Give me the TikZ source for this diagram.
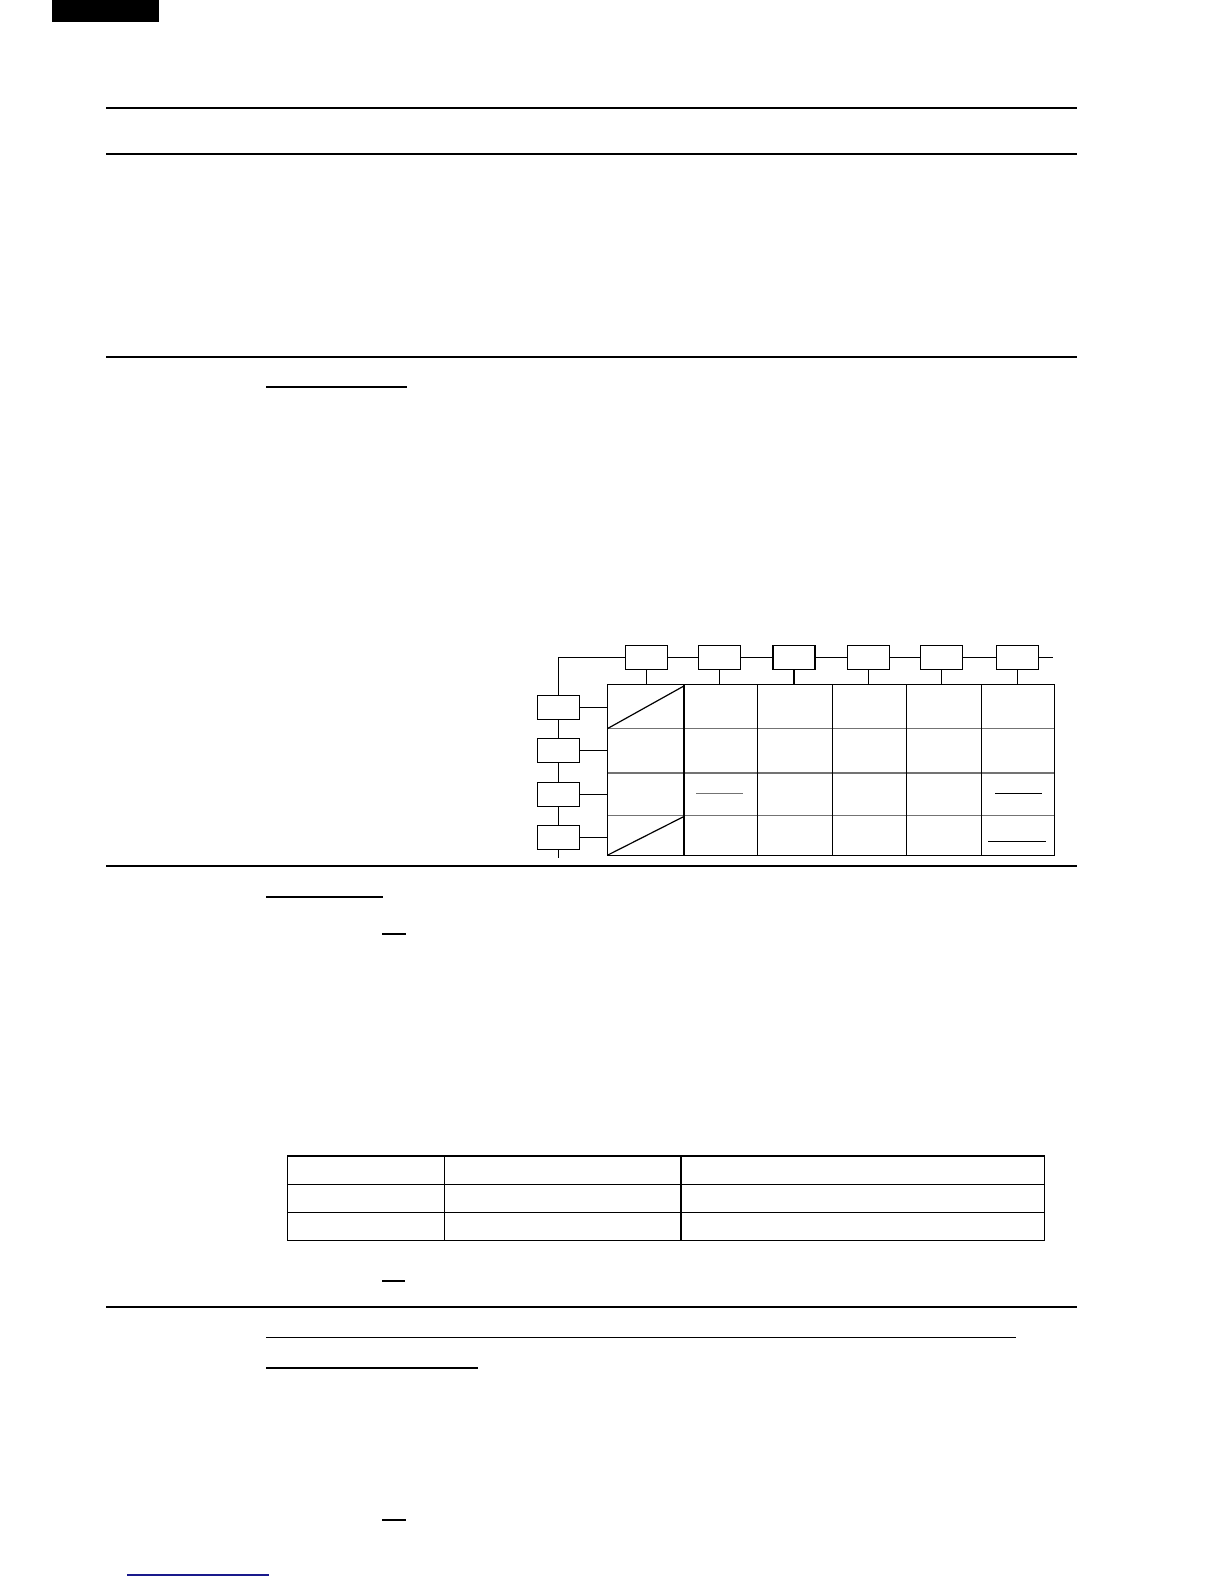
\documentclass[tikz,border=0pt]{standalone}
\usetikzlibrary{positioning}

\definecolor{rowgray}{gray}{0.45}
\definecolor{linkblue}{RGB}{25,25,140}

\begin{document}
\begin{tikzpicture}[x=1pt, y=-1pt, line width=1.2pt,
	box/.style={draw, minimum width=42pt, minimum height=24pt, inner sep=0pt},
	rule/.style={line width=1.7pt},
	uline/.style={line width=1.4pt}]
	\useasboundingbox (0,0) rectangle (1224,1584);
	% page tab and section rules
	\fill (52,0) rectangle (159,22);
	\foreach \y in {107.7,154,357,866,1307}{
			\draw[rule] (106,\y) -- (1077,\y);
		}
	\draw[uline] (266,387) -- (407,387);
	\draw[uline] (266,897) -- (383,897);
	\draw[uline] (382,934) -- (406,934);
	\draw[uline] (382,1281) -- (405,1281);
	\draw[uline] (266,1337.5) -- (1016,1337.5);
	\draw[uline] (266,1368) -- (478,1368);
	\draw[uline] (382,1520) -- (406,1520);
	\draw[uline, linkblue] (127,1575) -- (269,1575);

	% boxes round the grid
	\foreach \x [count=\i] in {646.3,719.8,794,868.3,941.8,1017.5}{
			\node[box] (top\i) at (\x,657.3) {};
		}
	\foreach \y [count=\i] in {707.3,750.6,794.8,837.3}{
			\node[box] (side\i) at (558.3,\y) {};
		}
	\coordinate (gridnw) at (607.3,684.3);
	\coordinate (busend) at (1052.6,657.3);
	\coordinate (spine) at (558.3,858);
	\draw (side1.north) |- (top1.west);
	\foreach \i [evaluate=\i as \j using int(\i+1)] in {1,...,5}{
			\draw (top\i.east) -- (top\j.west);
		}
	\draw (top6.east) -- (busend);
	\foreach \i [evaluate=\i as \j using int(\i+1)] in {1,...,3}{
			\draw (side\i.south) -- (side\j.north);
		}
	\draw (side4.south) -- (spine);
	\foreach \i in {1,...,6}{
			\draw (top\i.south) -- (top\i.south |- gridnw);
		}
	\foreach \i in {1,...,4}{
			\draw (side\i.east) -- (side\i.east -| gridnw);
		}

	% the grid
	\foreach \y in {728.7,773,815.3}{
			\draw[rowgray] (607.3,\y) -- (1054.6,\y);
		}
	\foreach \x in {683.9,757.7,832.4,906.2,981.3}{
			\draw (\x,684.3) -- (\x,855.3);
		}
	\draw (607.3,684.3) rectangle (1054.6,855.3);
	\draw (607.3,728.7) -- (683.9,686);
	\draw (607.3,855.3) -- (683.9,816.5);
	\draw[rowgray] (696,793.3) -- (742.5,793.3);
	\draw (995,793.3) -- (1041.7,793.3);
	\draw (988.3,841.3) -- (1046,841.3);

	% lower table
	\foreach \y in {1184.3,1212.3}{
			\draw[uline] (287.3,\y) -- (1044.5,\y);
		}
	\foreach \x in {444.3,680.9}{
			\draw[uline] (\x,1156) -- (\x,1240.5);
		}
	\draw[uline] (287.3,1156) rectangle (1044.5,1240.5);
\end{tikzpicture}
\end{document}
